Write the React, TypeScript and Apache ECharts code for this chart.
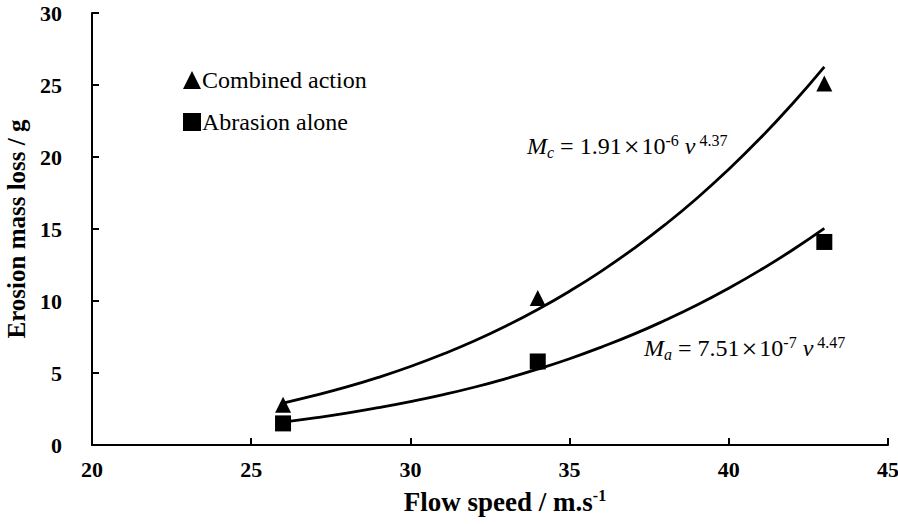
import React, { useEffect, useRef } from "react";
import * as echarts from "echarts";

const speeds = [26, 34, 43];
const combinedLoss = [2.8, 10.2, 25.1];
const abrasionLoss = [1.5, 5.8, 14.1];

// points
const curveSpeeds = [26, 27, 28, 29, 30, 31, 32, 33, 34, 35, 36, 37, 38, 39, 40, 41, 42, 43];
const combinedCurve = [2.91, 3.44, 4.03, 4.70, 5.45, 6.29, 7.22, 8.26, 9.41, 10.68, 12.08, 13.62, 15.3, 17.14, 19.15, 21.33, 23.7, 26.26];
const abrasionCurve = [1.59, 1.88, 2.21, 2.59, 3.01, 3.48, 4.01, 4.61, 5.27, 5.99, 6.8, 7.68, 8.66, 9.72, 10.89, 12.16, 13.54, 15.04];

const xTicks = [20, 25, 30, 35, 40, 45];
const yTicks = [0, 5, 10, 15, 20, 25, 30];

const FONT = "Liberation Serif";

const eqRich = {
  m: { fontFamily: FONT, fontSize: 24, fontStyle: "italic", fill: "#000" },
  sub: { fontFamily: FONT, fontSize: 16, fontStyle: "italic", fill: "#000", verticalAlign: "bottom", padding: [11, 0, 0, 0] },
  n: { fontFamily: FONT, fontSize: 24, fill: "#000" },
  x: { fontFamily: FONT, fontSize: 28, fill: "#000", padding: [0, 2, 0, 2] },
  v: { fontFamily: FONT, fontSize: 24, fontStyle: "italic", fill: "#000" },
  sup: { fontFamily: FONT, fontSize: 16, fill: "#000", verticalAlign: "top", padding: [0, 0, 11, 0] },
};

export default function App() {
  const ref = useRef<HTMLDivElement>(null);
  useEffect(() => {
    if (!ref.current) return;
    const chart = echarts.init(ref.current, null, { renderer: "svg" });
    const pair = (xs: number[], ys: number[]) => xs.map((x, i) => [x, ys[i]]);
    chart.setOption({
      animation: false,
      backgroundColor: "#fff",
      textStyle: { fontFamily: FONT },
      grid: { left: 92, right: 10, top: 13, bottom: 79, containLabel: false, outerBoundsMode: "none" },
      legend: {
        data: ["Combined action", "Abrasion alone"],
        orient: "vertical",
        left: 178,
        top: 63,
        itemGap: 18,
        itemWidth: 18,
        itemHeight: 18,
        itemStyle: { color: "#000", opacity: 1 },
        textStyle: { fontFamily: FONT, fontSize: 24, color: "#000", padding: [0, 0, 0, -4] },
      },
      xAxis: {
        type: "value",
        min: xTicks[0],
        max: xTicks[xTicks.length - 1],
        interval: 5,
        splitLine: { show: false },
        axisLine: { onZero: false, lineStyle: { color: "#000", width: 2 } },
        axisTick: { inside: true, length: 7, lineStyle: { color: "#000", width: 2 } },
        axisLabel: { color: "#000", fontFamily: FONT, fontSize: 22, fontWeight: "bold", margin: 13 },
        name: "{a|Flow speed / m.s}{s|-1}",
        nameLocation: "middle",
        nameGap: 42,
        nameTextStyle: {
          padding: [0, 0, 0, 30],
          rich: {
            a: { fontFamily: FONT, fontSize: 27, fontWeight: "bold", color: "#000" },
            s: { fontFamily: FONT, fontSize: 16, fontWeight: "bold", color: "#000", verticalAlign: "top", padding: [0, 0, 14, 0] },
          },
        },
      },
      yAxis: {
        type: "value",
        min: yTicks[0],
        max: yTicks[yTicks.length - 1],
        interval: 5,
        splitLine: { show: false },
        axisLine: { lineStyle: { color: "#000", width: 2 } },
        axisTick: { inside: true, length: 7, lineStyle: { color: "#000", width: 2 } },
        axisLabel: { color: "#000", fontFamily: FONT, fontSize: 22, fontWeight: "bold", margin: 30 },
        name: "Erosion mass loss / g",
        nameLocation: "middle",
        nameGap: 63,
        nameTextStyle: { fontFamily: FONT, fontSize: 25, fontWeight: "bold", color: "#000" },
      },
      series: [
        {
          name: "Combined fit",
          type: "line",
          data: pair(curveSpeeds, combinedCurve),
          smooth: true,
          showSymbol: false,
          lineStyle: { color: "#000", width: 2.8 },
          silent: true,
          z: 2,
        },
        {
          name: "Abrasion fit",
          type: "line",
          data: pair(curveSpeeds, abrasionCurve),
          smooth: true,
          showSymbol: false,
          lineStyle: { color: "#000", width: 2.8 },
          silent: true,
          z: 2,
        },
        {
          name: "Combined action",
          type: "scatter",
          data: pair(speeds, combinedLoss),
          symbol: "triangle",
          symbolSize: 16,
          itemStyle: { color: "#000", opacity: 1 },
          z: 3,
        },
        {
          name: "Abrasion alone",
          type: "scatter",
          data: pair(speeds, abrasionLoss),
          symbol: "rect",
          symbolSize: 16,
          itemStyle: { color: "#000", opacity: 1 },
          z: 3,
        },
      ],
      graphic: [
        {
          type: "text",
          left: 527,
          top: 132,
          style: { text: "{m|M}{sub|c}{n| = 1.91}{x|×}{n|10}{sup|-6}{v| v}{sup| 4.37}", rich: eqRich },
        },
        {
          type: "text",
          left: 644,
          top: 334,
          style: { text: "{m|M}{sub|a}{n| = 7.51}{x|×}{n|10}{sup|-7}{v| v}{sup| 4.47}", rich: eqRich },
        },
      ],
    });
    return () => chart.dispose();
  }, []);
  return <div ref={ref} style={{ width: 898, height: 524, position: "absolute", left: 0, top: 0 }} />;
}
